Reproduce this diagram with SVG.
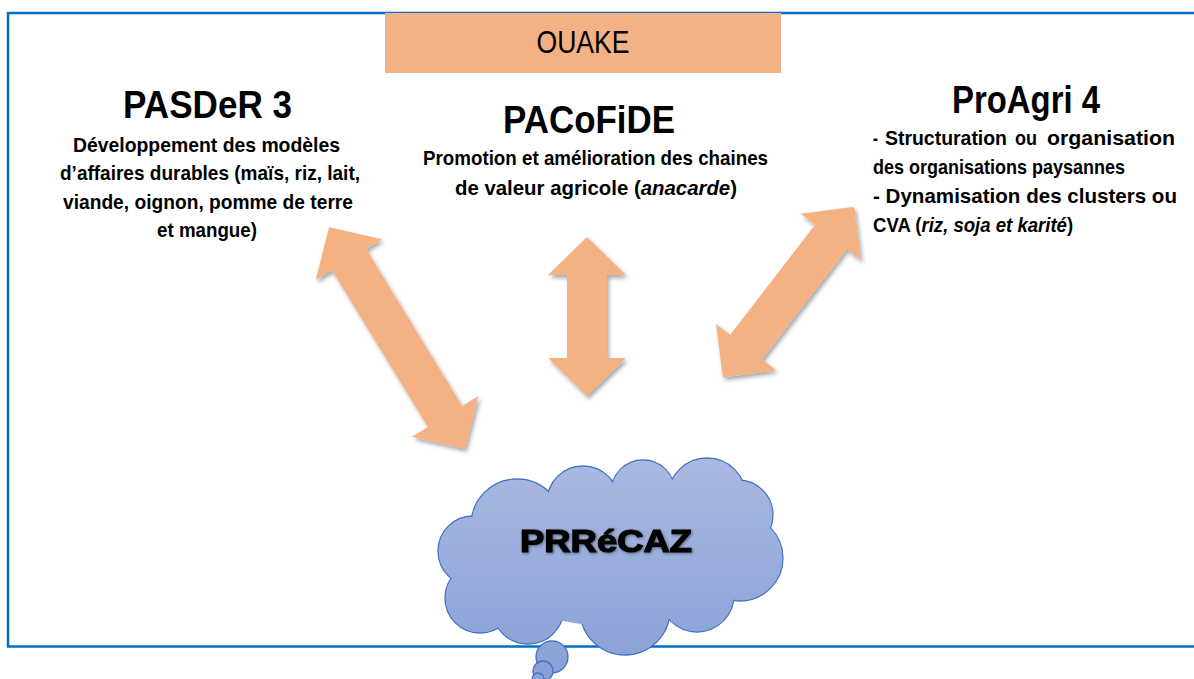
<svg xmlns="http://www.w3.org/2000/svg" width="1194" height="679" viewBox="0 0 1194 679">
<defs>
<style>
.t{font-family:"Liberation Sans Narrow","Liberation Sans",Arial,sans-serif;font-weight:bold;fill:#000}
.title{font-size:39px}
.body{font-size:20.5px}
.arrow{fill:#F4B183}
.cl{fill:url(#cg);stroke:#4472C4;stroke-width:1.3}
.cf{fill:url(#cg);stroke:none}
</style>
<linearGradient id="cg" gradientUnits="userSpaceOnUse" x1="0" y1="455" x2="0" y2="680">
<stop offset="0" stop-color="#AAB9E1"/>
<stop offset="1" stop-color="#88A0D6"/>
</linearGradient>
<filter id="sh" x="-20%" y="-20%" width="140%" height="140%">
<feDropShadow dx="2" dy="3" stdDeviation="2" flood-color="#000" flood-opacity="0.35"/>
</filter>
<filter id="tsh" x="-10%" y="-30%" width="120%" height="160%">
<feDropShadow dx="1" dy="1" stdDeviation="1.5" flood-color="#000" flood-opacity="0.45"/>
</filter>
</defs>

<rect x="8" y="13" width="1200" height="633.5" fill="none" stroke="#0070C0" stroke-width="2.5"/>

<g id="connectors">
<g filter="url(#sh)">
<polygon class="arrow" transform="translate(397,338) rotate(58.5)" points="-130,0 -92,-39 -92,-20 92,-20 92,-39 130,0 92,39 92,20 -92,20 -92,39"/>
</g>
<g filter="url(#sh)">
<polygon class="arrow" transform="translate(587,316.5) rotate(90)" points="-79.5,0 -41.5,-39 -41.5,-20 41.5,-20 41.5,-39 79.5,0 41.5,39 41.5,20 -41.5,20 -41.5,39"/>
</g>
<g filter="url(#sh)">
<polygon class="arrow" transform="translate(788.5,292) rotate(-52.4)" points="-107.5,0 -69.5,-38 -69.5,-20 69.5,-20 69.5,-38 107.5,0 69.5,38 69.5,20 -69.5,20 -69.5,38"/>
</g>
</g>

<g id="ouake">
<rect x="385" y="13" width="396" height="60" fill="#F4B183"/>
<text x="583" y="52.5" text-anchor="middle" font-family="'Liberation Sans Narrow','Liberation Sans',Arial,sans-serif" font-size="31" textLength="93" lengthAdjust="spacingAndGlyphs">OUAKE</text>
</g>

<g id="pasder3">
<text class="t title" x="207.5" y="118" text-anchor="middle" textLength="169" lengthAdjust="spacingAndGlyphs">PASDeR 3</text>
<text class="t body" x="206.5" y="151.5" text-anchor="middle" textLength="267" lengthAdjust="spacingAndGlyphs">Développement des modèles</text>
<text class="t body" x="210" y="180" text-anchor="middle" textLength="300" lengthAdjust="spacingAndGlyphs">d’affaires durables (maïs, riz, lait,</text>
<text class="t body" x="208" y="208.5" text-anchor="middle" textLength="290" lengthAdjust="spacingAndGlyphs">viande, oignon, pomme de terre</text>
<text class="t body" x="207" y="237" text-anchor="middle" textLength="100" lengthAdjust="spacingAndGlyphs">et mangue)</text>
</g>

<g id="pacofide">
<text class="t title" x="589" y="133" text-anchor="middle" textLength="172" lengthAdjust="spacingAndGlyphs">PACoFiDE</text>
<text class="t body" x="595.5" y="165" text-anchor="middle" textLength="345" lengthAdjust="spacingAndGlyphs">Promotion et amélioration des chaines</text>
<text class="t body" x="596" y="195" text-anchor="middle" textLength="282" lengthAdjust="spacingAndGlyphs">de valeur agricole (<tspan font-style="italic">anacarde</tspan>)</text>
</g>

<g id="proagri4">
<text class="t title" x="1026" y="113" text-anchor="middle" textLength="148" lengthAdjust="spacingAndGlyphs">ProAgri 4</text>
<text class="t body" x="873" y="145" textLength="5" lengthAdjust="spacingAndGlyphs">-</text>
<text class="t body" x="885" y="145" textLength="122" lengthAdjust="spacingAndGlyphs">Structuration</text>
<text class="t body" x="1015" y="145" textLength="22" lengthAdjust="spacingAndGlyphs">ou</text>
<text class="t body" x="1047" y="145" textLength="128" lengthAdjust="spacingAndGlyphs">organisation</text>
<text class="t body" x="873" y="174" textLength="252" lengthAdjust="spacingAndGlyphs">des organisations paysannes</text>
<text class="t body" x="873" y="203" textLength="304" lengthAdjust="spacingAndGlyphs">- Dynamisation des clusters ou</text>
<text class="t body" transform="translate(873,232) scale(0.906,1)">CVA (<tspan font-style="italic">riz, soja et karité</tspan>)</text>
</g>

<g id="prrecaz">
<g class="cl">
<circle cx="517" cy="525" r="46"/>
<circle cx="583" cy="502" r="36"/>
<circle cx="643" cy="492" r="32"/>
<circle cx="707" cy="497" r="39"/>
<circle cx="738" cy="515" r="35"/>
<circle cx="740" cy="558" r="43"/>
<circle cx="697" cy="595" r="37"/>
<circle cx="625" cy="610" r="45"/>
<circle cx="528" cy="608" r="36"/>
<circle cx="480" cy="598" r="35"/>
<circle cx="473" cy="551" r="35"/>
</g>
<g class="cf">
<ellipse cx="612" cy="556" rx="130" ry="70"/>
<circle cx="517" cy="525" r="45.3"/>
<circle cx="583" cy="502" r="35.3"/>
<circle cx="643" cy="492" r="31.3"/>
<circle cx="707" cy="497" r="38.3"/>
<circle cx="738" cy="515" r="34.3"/>
<circle cx="740" cy="558" r="42.3"/>
<circle cx="697" cy="595" r="36.3"/>
<circle cx="625" cy="610" r="44.3"/>
<circle cx="528" cy="608" r="35.3"/>
<circle cx="480" cy="598" r="34.3"/>
<circle cx="473" cy="551" r="34.3"/>
</g>
<circle class="cl" cx="552" cy="657" r="16"/>
<circle class="cl" cx="543" cy="671" r="10"/>
<circle class="cl" cx="538" cy="679" r="6"/>
<text x="606" y="552" text-anchor="middle" font-family="'Liberation Sans',Arial,sans-serif" font-weight="bold" font-size="31" stroke="#000" stroke-width="1.2" textLength="172" lengthAdjust="spacingAndGlyphs" filter="url(#tsh)">PRRéCAZ</text>
</g>
</svg>
